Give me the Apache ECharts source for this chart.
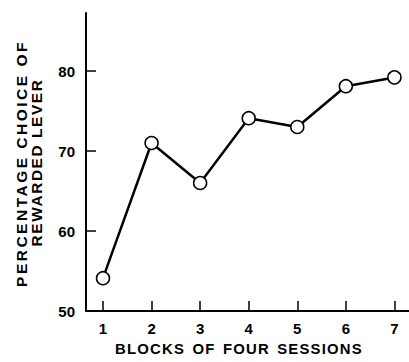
<!DOCTYPE html>
<html>
<head>
<meta charset="utf-8">
<script src="https://cdn.jsdelivr.net/npm/echarts@6/dist/echarts.min.js"></script>
<style>
html,body{margin:0;padding:0;background:#fff;}
#c{width:409px;height:362px;}
#c svg text[style*="14.9px"]{letter-spacing:1.2px;word-spacing:2px;}
#c svg text[style*="15.5px"]{letter-spacing:2.5px;}
#c svg text[style*="15.4px"]{letter-spacing:1.6px;}
</style>
</head>
<body>
<div id="c"></div>
<script>
var blocks = [1, 2, 3, 4, 5, 6, 7];
var percentages = [54.1, 71.0, 66.0, 74.1, 73.0, 78.1, 79.2];
var xTicks = [1, 2, 3, 4, 5, 6, 7];
var yTicks = [50, 60, 70, 80];
var xTitle = 'BLOCKS OF FOUR SESSIONS';
var yTitleLines = ['PERCENTAGE CHOICE OF', 'REWARDED LEVER'];

var chart = echarts.init(document.getElementById('c'), null, {renderer: 'svg'});
var lbl = {color: '#000', fontFamily: 'Liberation Sans', fontWeight: 'bold', fontSize: 15};
chart.setOption({
  animation: false,
  backgroundColor: '#fff',
  grid: {left: 86, right: 0, top: 13, bottom: 51, containLabel: false},
  xAxis: {
    type: 'value', min: 0.65, max: 7.3,
    axisLine: {show: true, onZero: false, lineStyle: {color: '#000', width: 2}},
    axisTick: {show: true, inside: true, length: 10, customValues: xTicks, lineStyle: {color: '#000', width: 1.5}},
    axisLabel: Object.assign({margin: 10, customValues: xTicks}, lbl),
    splitLine: {show: false}
  },
  yAxis: {
    type: 'value', min: 50, max: 87.25,
    axisLine: {show: true, onZero: false, lineStyle: {color: '#000', width: 2}},
    axisTick: {show: true, inside: true, length: 10, customValues: yTicks, lineStyle: {color: '#000', width: 1.5}},
    axisLabel: Object.assign({margin: 11, customValues: yTicks}, lbl),
    splitLine: {show: false}
  },
  series: [{
    type: 'line',
    data: blocks.map(function (b, i) { return [b, percentages[i]]; }),
    symbol: 'circle', symbolSize: 13,
    itemStyle: {color: '#fff', borderColor: '#000', borderWidth: 1.5},
    lineStyle: {color: '#000', width: 2.5}
  }],
  graphic: [
    {type: 'text', x: 239, y: 349, style: {text: xTitle, fill: '#000', font: 'bold 14.9px "Liberation Sans"', align: 'center', verticalAlign: 'middle'}},
    {type: 'text', x: 21, y: 163.5, rotation: Math.PI / 2, style: {text: yTitleLines[0], fill: '#000', font: 'bold 15.5px "Liberation Sans"', align: 'center', verticalAlign: 'middle'}},
    {type: 'text', x: 36.5, y: 162.5, rotation: Math.PI / 2, style: {text: yTitleLines[1], fill: '#000', font: 'bold 15.4px "Liberation Sans"', align: 'center', verticalAlign: 'middle'}}
  ]
});
</script>
</body>
</html>
